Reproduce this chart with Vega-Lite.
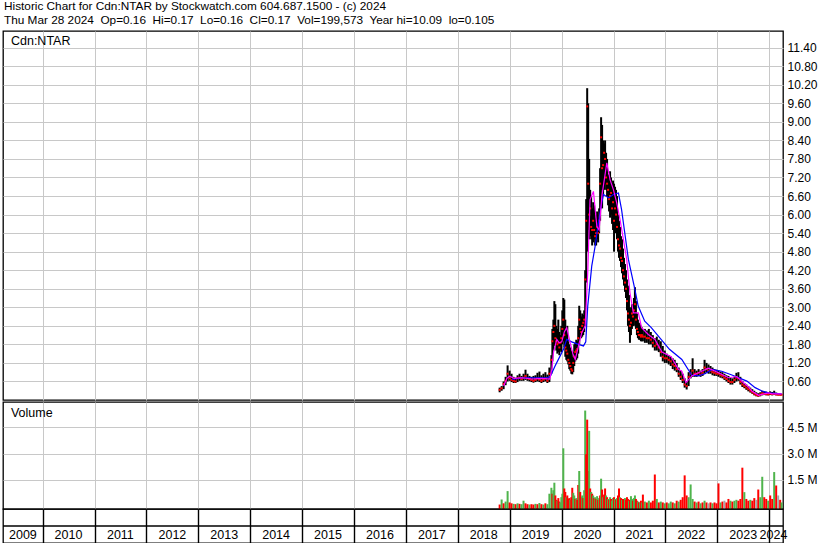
{
  "$schema": "https://vega.github.io/schema/vega-lite/v6.json",
  "padding": {"left": 1, "top": 0, "right": 0, "bottom": 0},
  "background": "white",
  "bounds": "flush",
  "title": {
    "text": ["Historic Chart for Cdn:NTAR by Stockwatch.com 604.687.1500 - (c) 2024", "Thu Mar 28 2024\u00a0 Op=0.16\u00a0 Hi=0.17\u00a0 Lo=0.16\u00a0 Cl=0.17\u00a0 Vol=199,573\u00a0 Year hi=10.09\u00a0 lo=0.105"],
    "anchor": "start", "frame": "group", "fontSize": 11.8, "fontWeight": "normal", "font": "Liberation Sans", "color": "black", "lineHeight": 14, "offset": 4, "dx": 1
  },
  "config": {
    "view": {"stroke": "black", "strokeWidth": 1.3},
    "font": "Liberation Sans",
    "axis": {"gridColor": "#c8c8c8", "gridWidth": 1, "gridOpacity": 1, "domain": false, "ticks": false, "labelColor": "black", "labelFont": "Liberation Sans", "labelFontSize": 12, "title": null, "minExtent": 0, "labelOverlap": false, "labelBound": false}
  },
  "datasets": {
    "p": [
      {"d":"2018-10-22","h":0.40,"l":0.25,"c":0.33,"v":0.08,"k":"r"},
      {"d":"2018-11-05","h":0.45,"l":0.30,"c":0.38,"v":0.37,"k":"g"},
      {"d":"2018-11-19","h":0.60,"l":0.35,"c":0.52,"v":0.15,"k":"r"},
      {"d":"2018-12-03","h":0.75,"l":0.48,"c":0.62,"v":0.25,"k":"g"},
      {"d":"2018-12-17","h":1.12,"l":0.60,"c":0.85,"v":0.85,"k":"g"},
      {"d":"2018-12-31","h":0.95,"l":0.62,"c":0.70,"v":0.20,"k":"r"},
      {"d":"2019-01-14","h":0.85,"l":0.58,"c":0.65,"v":0.15,"k":"r"},
      {"d":"2019-01-28","h":0.75,"l":0.55,"c":0.62,"v":0.12,"k":"g"},
      {"d":"2019-02-11","h":0.72,"l":0.55,"c":0.60,"v":0.10,"k":"r"},
      {"d":"2019-02-25","h":0.80,"l":0.58,"c":0.70,"v":0.15,"k":"g"},
      {"d":"2019-03-11","h":0.85,"l":0.62,"c":0.72,"v":0.12,"k":"r"},
      {"d":"2019-03-25","h":0.78,"l":0.62,"c":0.68,"v":0.10,"k":"g"},
      {"d":"2019-04-08","h":0.85,"l":0.62,"c":0.72,"v":0.30,"k":"g"},
      {"d":"2019-04-22","h":0.98,"l":0.65,"c":0.78,"v":0.15,"k":"r"},
      {"d":"2019-05-06","h":0.85,"l":0.62,"c":0.70,"v":0.10,"k":"r"},
      {"d":"2019-05-20","h":0.78,"l":0.60,"c":0.68,"v":0.08,"k":"g"},
      {"d":"2019-06-03","h":0.75,"l":0.58,"c":0.65,"v":0.10,"k":"r"},
      {"d":"2019-06-17","h":0.78,"l":0.56,"c":0.62,"v":0.08,"k":"r"},
      {"d":"2019-07-01","h":0.80,"l":0.58,"c":0.65,"v":0.12,"k":"g"},
      {"d":"2019-07-15","h":0.88,"l":0.60,"c":0.70,"v":0.10,"k":"r"},
      {"d":"2019-07-29","h":0.92,"l":0.58,"c":0.66,"v":0.17,"k":"g"},
      {"d":"2019-08-12","h":0.80,"l":0.55,"c":0.62,"v":0.10,"k":"r"},
      {"d":"2019-08-26","h":0.85,"l":0.58,"c":0.66,"v":0.08,"k":"g"},
      {"d":"2019-09-09","h":0.90,"l":0.60,"c":0.70,"v":0.15,"k":"r"},
      {"d":"2019-09-23","h":0.82,"l":0.55,"c":0.62,"v":0.10,"k":"g"},
      {"d":"2019-10-07","h":1.05,"l":0.58,"c":0.85,"v":0.70,"k":"g"},
      {"d":"2019-10-21","h":1.45,"l":0.85,"c":1.30,"v":1.04,"k":"g"},
      {"d":"2019-10-28","h":2.30,"l":1.25,"c":1.90,"v":0.70,"k":"r"},
      {"d":"2019-11-04","h":2.60,"l":1.60,"c":2.20,"v":0.90,"k":"g"},
      {"d":"2019-11-11","h":3.20,"l":1.75,"c":2.40,"v":1.33,"k":"g"},
      {"d":"2019-11-18","h":3.10,"l":1.80,"c":2.00,"v":0.60,"k":"r"},
      {"d":"2019-11-25","h":2.40,"l":1.60,"c":1.90,"v":0.35,"k":"r"},
      {"d":"2019-12-02","h":2.30,"l":1.50,"c":1.80,"v":0.30,"k":"g"},
      {"d":"2019-12-09","h":2.60,"l":1.55,"c":1.85,"v":0.45,"k":"r"},
      {"d":"2019-12-16","h":2.20,"l":1.45,"c":1.70,"v":0.25,"k":"r"},
      {"d":"2019-12-23","h":2.10,"l":1.60,"c":1.85,"v":0.20,"k":"g"},
      {"d":"2019-12-30","h":2.40,"l":1.55,"c":2.00,"v":0.50,"k":"g"},
      {"d":"2020-01-06","h":2.90,"l":1.80,"c":2.30,"v":0.70,"k":"g"},
      {"d":"2020-01-13","h":3.30,"l":1.90,"c":2.60,"v":3.30,"k":"g"},
      {"d":"2020-01-20","h":3.25,"l":1.70,"c":2.10,"v":1.00,"k":"r"},
      {"d":"2020-01-27","h":2.60,"l":1.40,"c":1.70,"v":0.80,"k":"r"},
      {"d":"2020-02-03","h":2.30,"l":1.30,"c":1.60,"v":0.50,"k":"g"},
      {"d":"2020-02-10","h":2.40,"l":1.25,"c":1.50,"v":0.60,"k":"r"},
      {"d":"2020-02-17","h":1.90,"l":1.15,"c":1.30,"v":0.40,"k":"r"},
      {"d":"2020-02-24","h":1.80,"l":1.00,"c":1.20,"v":0.45,"k":"r"},
      {"d":"2020-03-02","h":1.70,"l":0.95,"c":1.10,"v":0.35,"k":"g"},
      {"d":"2020-03-09","h":1.60,"l":0.85,"c":1.00,"v":0.50,"k":"r"},
      {"d":"2020-03-16","h":1.40,"l":0.83,"c":0.95,"v":1.04,"k":"r"},
      {"d":"2020-03-23","h":1.55,"l":0.90,"c":1.20,"v":0.75,"k":"g"},
      {"d":"2020-03-30","h":1.80,"l":1.10,"c":1.40,"v":0.60,"k":"g"},
      {"d":"2020-04-06","h":1.85,"l":1.25,"c":1.55,"v":0.40,"k":"r"},
      {"d":"2020-04-13","h":1.95,"l":1.30,"c":1.60,"v":0.45,"k":"g"},
      {"d":"2020-04-20","h":1.90,"l":1.35,"c":1.65,"v":0.35,"k":"r"},
      {"d":"2020-04-27","h":2.40,"l":1.50,"c":2.00,"v":1.20,"k":"r"},
      {"d":"2020-05-04","h":3.05,"l":1.80,"c":2.60,"v":2.00,"k":"g"},
      {"d":"2020-05-11","h":2.90,"l":2.00,"c":2.30,"v":0.80,"k":"r"},
      {"d":"2020-05-18","h":2.70,"l":2.00,"c":2.20,"v":0.50,"k":"r"},
      {"d":"2020-05-25","h":2.80,"l":2.05,"c":2.40,"v":0.60,"k":"g"},
      {"d":"2020-06-01","h":2.75,"l":2.10,"c":2.50,"v":0.45,"k":"r"},
      {"d":"2020-06-08","h":2.90,"l":2.20,"c":2.60,"v":0.90,"k":"g"},
      {"d":"2020-06-15","h":4.20,"l":2.40,"c":3.90,"v":5.46,"k":"g"},
      {"d":"2020-06-22","h":6.50,"l":3.80,"c":5.80,"v":2.96,"k":"r"},
      {"d":"2020-06-29","h":10.09,"l":4.80,"c":9.50,"v":4.94,"k":"r"},
      {"d":"2020-07-06","h":9.60,"l":5.50,"c":7.00,"v":2.00,"k":"r"},
      {"d":"2020-07-13","h":7.80,"l":5.20,"c":6.00,"v":4.30,"k":"g"},
      {"d":"2020-07-20","h":6.80,"l":5.30,"c":6.20,"v":1.00,"k":"r"},
      {"d":"2020-07-27","h":6.60,"l":5.20,"c":5.60,"v":0.80,"k":"g"},
      {"d":"2020-08-03","h":6.20,"l":5.00,"c":5.50,"v":0.70,"k":"r"},
      {"d":"2020-08-10","h":6.40,"l":5.10,"c":5.80,"v":0.60,"k":"g"},
      {"d":"2020-08-17","h":6.30,"l":5.20,"c":5.50,"v":0.45,"k":"r"},
      {"d":"2020-08-24","h":5.90,"l":5.00,"c":5.30,"v":0.50,"k":"g"},
      {"d":"2020-08-31","h":6.00,"l":5.00,"c":5.40,"v":0.40,"k":"r"},
      {"d":"2020-09-07","h":6.10,"l":5.20,"c":5.60,"v":0.56,"k":"g"},
      {"d":"2020-09-14","h":5.90,"l":5.10,"c":5.40,"v":0.35,"k":"r"},
      {"d":"2020-09-21","h":6.20,"l":5.40,"c":5.80,"v":0.45,"k":"g"},
      {"d":"2020-09-28","h":7.50,"l":5.80,"c":7.00,"v":0.60,"k":"r"},
      {"d":"2020-10-05","h":9.15,"l":6.80,"c":8.50,"v":1.56,"k":"g"},
      {"d":"2020-10-12","h":8.90,"l":6.20,"c":7.50,"v":0.94,"k":"r"},
      {"d":"2020-10-19","h":8.40,"l":6.60,"c":7.60,"v":0.50,"k":"g"},
      {"d":"2020-10-26","h":8.30,"l":6.80,"c":8.00,"v":0.65,"k":"r"},
      {"d":"2020-11-02","h":8.40,"l":7.00,"c":7.80,"v":1.00,"k":"r"},
      {"d":"2020-11-09","h":8.00,"l":6.80,"c":7.20,"v":0.60,"k":"g"},
      {"d":"2020-11-16","h":7.80,"l":6.60,"c":7.00,"v":0.50,"k":"r"},
      {"d":"2020-11-23","h":7.30,"l":6.30,"c":6.80,"v":0.40,"k":"g"},
      {"d":"2020-11-30","h":7.10,"l":6.10,"c":6.50,"v":0.35,"k":"r"},
      {"d":"2020-12-07","h":7.40,"l":5.90,"c":6.60,"v":0.50,"k":"g"},
      {"d":"2020-12-14","h":7.20,"l":6.00,"c":6.70,"v":0.40,"k":"r"},
      {"d":"2020-12-21","h":7.00,"l":5.70,"c":6.20,"v":0.30,"k":"g"},
      {"d":"2020-12-28","h":7.10,"l":5.50,"c":6.40,"v":0.46,"k":"g"},
      {"d":"2021-01-04","h":7.00,"l":4.80,"c":5.80,"v":0.50,"k":"r"},
      {"d":"2021-01-11","h":6.90,"l":5.40,"c":6.20,"v":0.40,"k":"g"},
      {"d":"2021-01-18","h":6.80,"l":5.50,"c":6.00,"v":0.35,"k":"r"},
      {"d":"2021-01-25","h":6.60,"l":5.20,"c":5.60,"v":0.45,"k":"g"},
      {"d":"2021-02-01","h":6.00,"l":4.80,"c":5.20,"v":0.60,"k":"r"},
      {"d":"2021-02-08","h":5.80,"l":4.60,"c":5.00,"v":1.00,"k":"r"},
      {"d":"2021-02-15","h":5.60,"l":4.50,"c":4.90,"v":0.50,"k":"g"},
      {"d":"2021-02-22","h":5.30,"l":4.30,"c":4.60,"v":0.45,"k":"r"},
      {"d":"2021-03-01","h":5.20,"l":4.10,"c":4.50,"v":0.35,"k":"g"},
      {"d":"2021-03-08","h":4.90,"l":3.90,"c":4.20,"v":0.40,"k":"r"},
      {"d":"2021-03-15","h":4.60,"l":3.70,"c":4.00,"v":0.30,"k":"r"},
      {"d":"2021-03-22","h":4.40,"l":3.50,"c":3.80,"v":0.45,"k":"g"},
      {"d":"2021-03-29","h":4.20,"l":3.30,"c":3.60,"v":0.35,"k":"r"},
      {"d":"2021-04-05","h":3.90,"l":2.90,"c":3.20,"v":0.50,"k":"r"},
      {"d":"2021-04-12","h":3.70,"l":2.40,"c":2.80,"v":0.40,"k":"r"},
      {"d":"2021-04-19","h":3.40,"l":2.20,"c":2.60,"v":0.30,"k":"g"},
      {"d":"2021-04-26","h":3.00,"l":1.85,"c":2.40,"v":0.35,"k":"r"},
      {"d":"2021-05-03","h":2.90,"l":2.10,"c":2.50,"v":0.56,"k":"g"},
      {"d":"2021-05-10","h":3.10,"l":2.30,"c":2.80,"v":0.40,"k":"g"},
      {"d":"2021-05-17","h":3.00,"l":2.40,"c":2.70,"v":0.30,"k":"r"},
      {"d":"2021-05-24","h":3.30,"l":2.40,"c":2.90,"v":0.45,"k":"g"},
      {"d":"2021-05-31","h":3.65,"l":2.60,"c":3.10,"v":0.60,"k":"g"},
      {"d":"2021-06-07","h":3.20,"l":2.30,"c":2.60,"v":0.40,"k":"r"},
      {"d":"2021-06-14","h":2.80,"l":2.10,"c":2.30,"v":0.30,"k":"r"},
      {"d":"2021-06-21","h":2.60,"l":2.00,"c":2.20,"v":0.25,"k":"g"},
      {"d":"2021-06-28","h":2.50,"l":1.95,"c":2.10,"v":0.20,"k":"r"},
      {"d":"2021-07-05","h":2.45,"l":1.95,"c":2.10,"v":0.20,"k":"g"},
      {"d":"2021-07-12","h":2.40,"l":1.90,"c":2.05,"v":0.30,"k":"r"},
      {"d":"2021-07-19","h":2.35,"l":1.90,"c":2.10,"v":0.20,"k":"g"},
      {"d":"2021-07-26","h":2.30,"l":1.90,"c":2.05,"v":0.65,"k":"r"},
      {"d":"2021-08-09","h":2.30,"l":1.85,"c":2.05,"v":0.25,"k":"g"},
      {"d":"2021-08-23","h":2.25,"l":1.85,"c":2.00,"v":0.20,"k":"r"},
      {"d":"2021-09-06","h":2.30,"l":1.80,"c":2.00,"v":0.30,"k":"g"},
      {"d":"2021-09-20","h":2.20,"l":1.80,"c":1.95,"v":0.20,"k":"r"},
      {"d":"2021-10-04","h":2.10,"l":1.70,"c":1.85,"v":0.30,"k":"r"},
      {"d":"2021-10-18","h":2.00,"l":1.60,"c":1.75,"v":1.80,"k":"r"},
      {"d":"2021-11-01","h":2.05,"l":1.60,"c":1.80,"v":0.40,"k":"g"},
      {"d":"2021-11-15","h":1.95,"l":1.55,"c":1.70,"v":0.20,"k":"r"},
      {"d":"2021-11-29","h":1.90,"l":1.40,"c":1.55,"v":0.25,"k":"g"},
      {"d":"2021-12-13","h":1.75,"l":1.25,"c":1.40,"v":0.20,"k":"r"},
      {"d":"2021-12-27","h":1.60,"l":1.20,"c":1.35,"v":0.15,"k":"g"},
      {"d":"2022-01-10","h":1.50,"l":1.20,"c":1.35,"v":0.20,"k":"r"},
      {"d":"2022-01-24","h":1.45,"l":1.15,"c":1.30,"v":0.15,"k":"g"},
      {"d":"2022-02-07","h":1.40,"l":1.10,"c":1.25,"v":0.25,"k":"g"},
      {"d":"2022-02-21","h":1.35,"l":1.00,"c":1.15,"v":0.20,"k":"r"},
      {"d":"2022-03-07","h":1.30,"l":0.95,"c":1.10,"v":0.15,"k":"g"},
      {"d":"2022-03-21","h":1.20,"l":0.90,"c":1.00,"v":0.30,"k":"r"},
      {"d":"2022-04-04","h":1.05,"l":0.75,"c":0.85,"v":0.25,"k":"g"},
      {"d":"2022-04-18","h":0.95,"l":0.65,"c":0.75,"v":0.35,"k":"r"},
      {"d":"2022-05-02","h":0.85,"l":0.55,"c":0.65,"v":0.50,"k":"r"},
      {"d":"2022-05-16","h":0.70,"l":0.40,"c":0.50,"v":1.75,"k":"r"},
      {"d":"2022-05-30","h":0.60,"l":0.34,"c":0.45,"v":0.60,"k":"r"},
      {"d":"2022-06-13","h":0.90,"l":0.45,"c":0.75,"v":0.50,"k":"g"},
      {"d":"2022-06-27","h":1.00,"l":0.70,"c":0.85,"v":1.23,"k":"g"},
      {"d":"2022-07-11","h":1.35,"l":0.75,"c":0.95,"v":0.40,"k":"g"},
      {"d":"2022-07-25","h":1.00,"l":0.75,"c":0.85,"v":0.25,"k":"r"},
      {"d":"2022-08-08","h":0.95,"l":0.75,"c":0.85,"v":0.20,"k":"g"},
      {"d":"2022-08-22","h":1.00,"l":0.78,"c":0.88,"v":0.25,"k":"r"},
      {"d":"2022-09-05","h":0.95,"l":0.75,"c":0.82,"v":0.15,"k":"g"},
      {"d":"2022-09-19","h":1.00,"l":0.78,"c":0.88,"v":0.20,"k":"r"},
      {"d":"2022-10-03","h":1.30,"l":0.85,"c":1.05,"v":0.30,"k":"g"},
      {"d":"2022-10-17","h":1.20,"l":0.90,"c":1.00,"v":0.20,"k":"r"},
      {"d":"2022-10-31","h":1.15,"l":0.85,"c":0.95,"v":0.15,"k":"n"},
      {"d":"2022-11-14","h":1.10,"l":0.85,"c":0.95,"v":0.20,"k":"r"},
      {"d":"2022-11-28","h":1.05,"l":0.80,"c":0.90,"v":0.15,"k":"g"},
      {"d":"2022-12-12","h":1.00,"l":0.78,"c":0.88,"v":0.20,"k":"r"},
      {"d":"2022-12-26","h":0.98,"l":0.78,"c":0.85,"v":0.15,"k":"r"},
      {"d":"2023-01-09","h":0.95,"l":0.75,"c":0.85,"v":1.29,"k":"r"},
      {"d":"2023-01-23","h":0.92,"l":0.72,"c":0.80,"v":0.20,"k":"g"},
      {"d":"2023-02-06","h":0.90,"l":0.70,"c":0.78,"v":0.25,"k":"r"},
      {"d":"2023-02-20","h":0.85,"l":0.65,"c":0.72,"v":0.30,"k":"n"},
      {"d":"2023-03-06","h":0.80,"l":0.60,"c":0.68,"v":0.20,"k":"r"},
      {"d":"2023-03-20","h":0.78,"l":0.55,"c":0.62,"v":0.40,"k":"r"},
      {"d":"2023-04-03","h":0.72,"l":0.50,"c":0.58,"v":0.30,"k":"g"},
      {"d":"2023-04-17","h":0.70,"l":0.50,"c":0.58,"v":0.25,"k":"r"},
      {"d":"2023-05-01","h":0.75,"l":0.55,"c":0.65,"v":0.30,"k":"g"},
      {"d":"2023-05-15","h":0.88,"l":0.60,"c":0.72,"v":0.35,"k":"g"},
      {"d":"2023-05-29","h":0.90,"l":0.62,"c":0.70,"v":0.30,"k":"r"},
      {"d":"2023-06-12","h":0.75,"l":0.50,"c":0.58,"v":0.40,"k":"r"},
      {"d":"2023-06-26","h":0.62,"l":0.42,"c":0.50,"v":2.19,"k":"r"},
      {"d":"2023-07-10","h":0.55,"l":0.38,"c":0.45,"v":0.79,"k":"g"},
      {"d":"2023-07-24","h":0.50,"l":0.33,"c":0.40,"v":0.40,"k":"r"},
      {"d":"2023-08-07","h":0.45,"l":0.28,"c":0.35,"v":0.30,"k":"r"},
      {"d":"2023-08-21","h":0.40,"l":0.24,"c":0.30,"v":0.35,"k":"g"},
      {"d":"2023-09-04","h":0.35,"l":0.20,"c":0.25,"v":0.30,"k":"r"},
      {"d":"2023-09-18","h":0.30,"l":0.15,"c":0.20,"v":0.45,"k":"r"},
      {"d":"2023-10-02","h":0.25,"l":0.12,"c":0.16,"v":0.35,"k":"n"},
      {"d":"2023-10-16","h":0.22,"l":0.105,"c":0.14,"v":0.94,"k":"r"},
      {"d":"2023-10-30","h":0.25,"l":0.12,"c":0.18,"v":0.50,"k":"g"},
      {"d":"2023-11-13","h":0.30,"l":0.15,"c":0.22,"v":1.67,"k":"g"},
      {"d":"2023-11-27","h":0.28,"l":0.16,"c":0.20,"v":0.50,"k":"r"},
      {"d":"2023-12-11","h":0.27,"l":0.15,"c":0.19,"v":0.40,"k":"r"},
      {"d":"2023-12-25","h":0.25,"l":0.15,"c":0.18,"v":0.30,"k":"g"},
      {"d":"2024-01-08","h":0.28,"l":0.16,"c":0.20,"v":0.60,"k":"r"},
      {"d":"2024-01-22","h":0.26,"l":0.15,"c":0.19,"v":0.40,"k":"r"},
      {"d":"2024-02-05","h":0.30,"l":0.16,"c":0.20,"v":1.94,"k":"g"},
      {"d":"2024-02-19","h":0.24,"l":0.15,"c":0.18,"v":1.17,"k":"r"},
      {"d":"2024-03-04","h":0.22,"l":0.15,"c":0.17,"v":0.60,"k":"n"},
      {"d":"2024-03-18","h":0.20,"l":0.15,"c":0.17,"v":0.35,"k":"r"},
      {"d":"2024-03-28","h":0.17,"l":0.16,"c":0.17,"v":0.20,"k":"g"}
    ],
    "m1": [
      {"d":"2018-11-20","m":0.45},{"d":"2018-12-12","m":0.70},{"d":"2018-12-31","m":0.77},{"d":"2019-01-31","m":0.70},
      {"d":"2019-03-28","m":0.72},{"d":"2019-06-07","m":0.68},{"d":"2019-08-16","m":0.70},{"d":"2019-10-10","m":0.68},
      {"d":"2019-10-24","m":1.00},{"d":"2019-11-05","m":1.54},{"d":"2019-11-16","m":1.74},{"d":"2019-11-28","m":1.96},
      {"d":"2019-12-15","m":1.85},{"d":"2020-01-02","m":1.88},{"d":"2020-01-20","m":2.20},{"d":"2020-02-06","m":2.34},
      {"d":"2020-02-29","m":1.88},{"d":"2020-03-20","m":1.50},{"d":"2020-04-06","m":1.31},{"d":"2020-04-29","m":1.75},
      {"d":"2020-05-22","m":2.18},{"d":"2020-06-15","m":2.40},{"d":"2020-07-03","m":4.12},{"d":"2020-07-19","m":6.48},
      {"d":"2020-08-12","m":6.75},{"d":"2020-09-05","m":5.62},{"d":"2020-09-21","m":5.50},{"d":"2020-10-10","m":6.59},
      {"d":"2020-11-14","m":7.67},{"d":"2020-12-07","m":7.13},{"d":"2020-12-31","m":6.80},{"d":"2021-01-23","m":6.38},
      {"d":"2021-02-15","m":5.84},{"d":"2021-03-11","m":5.19},{"d":"2021-04-03","m":4.55},{"d":"2021-04-26","m":3.47},
      {"d":"2021-05-20","m":2.82},{"d":"2021-06-24","m":2.82},{"d":"2021-07-17","m":2.34},{"d":"2021-09-02","m":2.12},
      {"d":"2021-10-19","m":1.96},{"d":"2021-12-07","m":1.55},{"d":"2022-02-10","m":1.40},{"d":"2022-04-02","m":0.99},
      {"d":"2022-04-26","m":0.93},{"d":"2022-05-25","m":0.56},{"d":"2022-07-05","m":0.78},{"d":"2022-08-21","m":0.88},
      {"d":"2022-10-30","m":1.03},{"d":"2023-01-09","m":0.88},{"d":"2023-03-21","m":0.72},{"d":"2023-05-18","m":0.76},
      {"d":"2023-07-04","m":0.56},{"d":"2023-08-09","m":0.42},{"d":"2023-09-01","m":0.29},{"d":"2023-10-18","m":0.15},
      {"d":"2023-11-11","m":0.18},{"d":"2023-12-28","m":0.23},{"d":"2024-01-20","m":0.20},{"d":"2024-03-28","m":0.20}
    ],
    "m2": [
      {"d":"2019-01-17","m":0.67},{"d":"2019-03-28","m":0.72},{"d":"2019-07-12","m":0.72},{"d":"2019-09-21","m":0.72},
      {"d":"2019-10-14","m":0.77},{"d":"2019-11-16","m":1.10},{"d":"2019-12-21","m":1.42},{"d":"2020-01-14","m":1.64},
      {"d":"2020-02-06","m":1.96},{"d":"2020-03-12","m":1.88},{"d":"2020-04-29","m":1.80},{"d":"2020-06-03","m":1.75},
      {"d":"2020-06-19","m":1.88},{"d":"2020-07-03","m":3.04},{"d":"2020-07-31","m":4.33},{"d":"2020-08-24","m":4.98},
      {"d":"2020-09-16","m":5.74},{"d":"2020-10-05","m":6.27},{"d":"2020-10-22","m":6.65},{"d":"2020-11-26","m":6.54},
      {"d":"2020-12-31","m":6.65},{"d":"2021-02-04","m":6.70},{"d":"2021-02-26","m":6.16},{"d":"2021-04-15","m":4.55},
      {"d":"2021-05-31","m":3.57},{"d":"2021-06-23","m":3.04},{"d":"2021-08-08","m":2.55},{"d":"2021-09-23","m":2.34},
      {"d":"2021-12-01","m":1.96},{"d":"2022-01-29","m":1.64},{"d":"2022-04-26","m":1.31},{"d":"2022-07-05","m":0.80},
      {"d":"2022-08-21","m":0.78},{"d":"2022-10-06","m":0.85},{"d":"2022-11-23","m":0.99},{"d":"2023-02-01","m":0.93},
      {"d":"2023-04-18","m":0.80},{"d":"2023-07-28","m":0.61},{"d":"2023-09-24","m":0.40},{"d":"2023-11-11","m":0.29},
      {"d":"2023-12-28","m":0.23},{"d":"2024-03-28","m":0.20}
    ],
    "yr": [
      {"d":"2009-08-15","t":"2009"},{"d":"2010-07-02","t":"2010"},{"d":"2011-07-02","t":"2011"},{"d":"2012-07-02","t":"2012"},
      {"d":"2013-07-02","t":"2013"},{"d":"2014-07-02","t":"2014"},{"d":"2015-07-02","t":"2015"},{"d":"2016-07-02","t":"2016"},
      {"d":"2017-07-02","t":"2017"},{"d":"2018-07-02","t":"2018"},{"d":"2019-07-02","t":"2019"},{"d":"2020-07-02","t":"2020"},
      {"d":"2021-07-02","t":"2021"},{"d":"2022-07-02","t":"2022"},{"d":"2023-07-02","t":"2023"},{"d":"2024-01-31","t":"2024"}
    ]
  },
  "spacing": 2,
  "vconcat": [
    {
      "width": 780,
      "height": 369,
      "layer": [
        {
          "data": {"name": "p"},
          "mark": {"type": "rule", "color": "black", "strokeWidth": 2},
          "encoding": {
            "x": {"field": "d", "type": "temporal", "scale": {"domain": [{"year": 2009, "month": 3, "date": 28}, {"year": 2024, "month": 4, "date": 7}]}, "axis": {"grid": true, "labels": false, "tickCount": {"interval": "year", "step": 1}}},
            "y": {"field": "h", "type": "quantitative", "scale": {"domain": [0, 11.94], "nice": false, "zero": false}, "axis": {"orient": "right", "values": [0.6, 1.2, 1.8, 2.4, 3, 3.6, 4.2, 4.8, 5.4, 6, 6.6, 7.2, 7.8, 8.4, 9, 9.6, 10.2, 10.8, 11.4], "format": ".2f", "grid": true, "labelPadding": 4, "labelOverlap": false, "labelBound": false, "labelFlush": false}},
            "y2": {"field": "l"}
          }
        },
        {
          "data": {"name": "p"},
          "mark": {"type": "square", "color": "#ff0000", "size": 4, "opacity": 1},
          "encoding": {
            "x": {"field": "d", "type": "temporal", "axis": {"grid": true, "labels": false, "tickCount": {"interval": "year", "step": 1}}},
            "y": {"field": "c", "type": "quantitative", "axis": {"orient": "right", "values": [0.6, 1.2, 1.8, 2.4, 3, 3.6, 4.2, 4.8, 5.4, 6, 6.6, 7.2, 7.8, 8.4, 9, 9.6, 10.2, 10.8, 11.4], "format": ".2f", "grid": true, "labelPadding": 4, "labelOverlap": false, "labelBound": false, "labelFlush": false}}
          }
        },
        {
          "data": {"name": "m2"},
          "mark": {"type": "line", "color": "#0000ff", "strokeWidth": 1.2},
          "encoding": {
            "x": {"field": "d", "type": "temporal", "axis": {"grid": true, "labels": false, "tickCount": {"interval": "year", "step": 1}}},
            "y": {"field": "m", "type": "quantitative", "axis": {"orient": "right", "values": [0.6, 1.2, 1.8, 2.4, 3, 3.6, 4.2, 4.8, 5.4, 6, 6.6, 7.2, 7.8, 8.4, 9, 9.6, 10.2, 10.8, 11.4], "format": ".2f", "grid": true, "labelPadding": 4, "labelOverlap": false, "labelBound": false, "labelFlush": false}}
          }
        },
        {
          "data": {"name": "m1"},
          "mark": {"type": "line", "color": "#ff00ff", "strokeWidth": 1.2},
          "encoding": {
            "x": {"field": "d", "type": "temporal", "axis": {"grid": true, "labels": false, "tickCount": {"interval": "year", "step": 1}}},
            "y": {"field": "m", "type": "quantitative", "axis": {"orient": "right", "values": [0.6, 1.2, 1.8, 2.4, 3, 3.6, 4.2, 4.8, 5.4, 6, 6.6, 7.2, 7.8, 8.4, 9, 9.6, 10.2, 10.8, 11.4], "format": ".2f", "grid": true, "labelPadding": 4, "labelOverlap": false, "labelBound": false, "labelFlush": false}}
          }
        },
        {
          "data": {"values": [{"t": "Cdn:NTAR"}]},
          "mark": {"type": "text", "align": "left", "baseline": "alphabetic", "fontSize": 12.5, "color": "black"},
          "encoding": {
            "x": {"datum": {"year": 2009, "month": 5, "date": 23}, "type": "temporal", "axis": {"grid": true, "labels": false, "tickCount": {"interval": "year", "step": 1}}},
            "y": {"datum": 11.5, "type": "quantitative", "axis": {"orient": "right", "values": [0.6, 1.2, 1.8, 2.4, 3, 3.6, 4.2, 4.8, 5.4, 6, 6.6, 7.2, 7.8, 8.4, 9, 9.6, 10.2, 10.8, 11.4], "format": ".2f", "grid": true, "labelPadding": 4, "labelOverlap": false, "labelBound": false, "labelFlush": false}},
            "text": {"field": "t"}
          }
        }
      ]
    },
    {
      "spacing": 0,
      "bounds": "flush",
      "vconcat": [
        {
          "width": 780,
          "height": 107,
          "layer": [
            {
              "data": {"name": "p"},
              "mark": {"type": "rule", "strokeWidth": 2},
              "encoding": {
                "x": {"field": "d", "type": "temporal", "scale": {"domain": [{"year": 2009, "month": 3, "date": 28}, {"year": 2024, "month": 4, "date": 7}]}, "axis": {"grid": true, "labels": false, "tickCount": {"interval": "year", "step": 1}}},
                "y": {"field": "v", "type": "quantitative", "scale": {"domain": [-0.175, 5.95], "nice": false, "zero": false}, "axis": {"orient": "right", "values": [1.5, 3, 4.5], "labelExpr": "format(datum.value, '.1f') + ' M'", "grid": true, "labelPadding": 4, "labelOverlap": false}},
                "y2": {"datum": -0.175},
                "color": {"field": "k", "type": "nominal", "scale": {"domain": ["g", "r", "n"], "range": ["#4fb44c", "#ff0000", "#a8a8a8"]}, "legend": null}
              }
            },
            {
              "data": {"values": [{"t": "Volume"}]},
              "mark": {"type": "text", "align": "left", "baseline": "alphabetic", "fontSize": 12.5, "color": "black"},
              "encoding": {
                "x": {"datum": {"year": 2009, "month": 5, "date": 23}, "type": "temporal", "axis": {"grid": true, "labels": false, "tickCount": {"interval": "year", "step": 1}}},
                "y": {"datum": 5.08, "type": "quantitative", "axis": {"orient": "right", "values": [1.5, 3, 4.5], "labelExpr": "format(datum.value, '.1f') + ' M'", "grid": true, "labelPadding": 4, "labelOverlap": false}},
                "text": {"field": "t"}
              }
            }
          ]
        },
        {
          "width": 780,
          "height": 34,
          "layer": [
            {
              "data": {"name": "yr"},
              "mark": {"type": "text", "fontSize": 12.5, "color": "black", "baseline": "middle", "align": "center"},
              "encoding": {
                "x": {"field": "d", "type": "temporal", "scale": {"domain": [{"year": 2009, "month": 3, "date": 28}, {"year": 2024, "month": 4, "date": 7}]}, "axis": {"grid": true, "gridColor": "black", "gridWidth": 1.4, "labels": false, "tickCount": {"interval": "year", "step": 1}}},
                "y": {"datum": 0.25, "type": "quantitative", "scale": {"domain": [0, 1], "nice": false}, "axis": null},
                "text": {"field": "t"}
              }
            },
            {
              "data": {"values": [{}]},
              "mark": {"type": "rule", "color": "black", "strokeWidth": 1.5},
              "encoding": {
                "y": {"datum": 0.5, "type": "quantitative", "axis": null}
              }
            }
          ]
        }
      ]
    }
  ]
}
